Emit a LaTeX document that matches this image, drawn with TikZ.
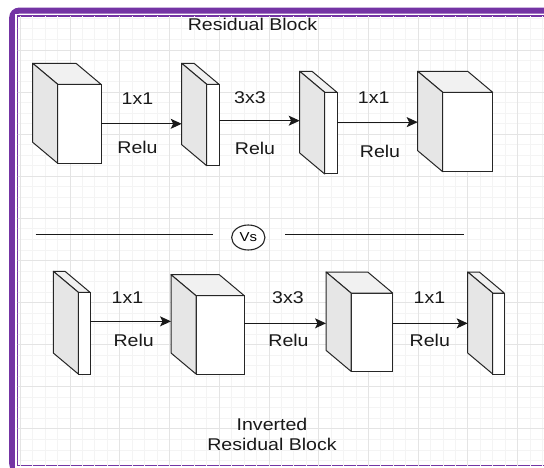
\documentclass[tikz,border=0pt]{standalone}
\usepackage{fontspec}
\setmainfont{Liberation Sans}
\usepackage{graphicx}
\usetikzlibrary{arrows.meta,shapes.geometric,positioning}
\definecolor{framepurple}{HTML}{7434A4}
\definecolor{sidegray}{HTML}{E6E6E6}
\definecolor{topgray}{HTML}{F1F1F1}
\definecolor{gridminor}{HTML}{F4F4F4}
\definecolor{gridmajor}{HTML}{E4E4E4}
\tikzset{
	face/.style={draw=black!85, fill=white, line width=1pt, inner sep=0pt, outer sep=0pt, anchor=north west},
	backface/.style={inner sep=0pt, outer sep=0pt, anchor=north west},
	sideface/.style={draw=black!85, line width=1pt, line join=round},
	flow/.style={draw=black!90, line width=1.1pt, -{Stealth[length=11pt,width=10pt,inset=2.5pt]}},
	lbl/.style={font=\fontsize{17}{20}\selectfont, text=black!90, inner sep=0pt},
	rule/.style={draw=black!90, line width=1.3pt},
}
\begin{document}
\begin{tikzpicture}[x=1pt,y=-1pt]
	\newcommand{\wide}[1]{\scalebox{1.15}[1]{#1}}
	% block: name, front left, front top, width, height
	\newcommand{\myblock}[5]{
		\node [face, minimum width=#4pt, minimum height=#5pt] (#1) at (#2,#3) {};
		\node [backface, minimum width=#4pt, minimum height=#5pt] (#1-back) at ([shift={(-25,-21)}]#1.north west) {};
		\filldraw [sideface, fill=topgray] (#1-back.north west) -- (#1-back.north east) -- (#1.north east) -- (#1.north west) -- cycle;
		\filldraw [sideface, fill=sidegray] (#1-back.north west) -- (#1.north west) -- (#1.south west) -- (#1-back.south west) -- cycle;
	}
	\useasboundingbox (0,0) rectangle (544,468);
	\clip (0,0) rectangle (544,468);
	%Frame
	\draw [draw=framepurple, line width=6pt, rounded corners=7pt] (12.2,10.6) rectangle (570,470.6);
	\fill [white] (15.2,13.6) rectangle (560,467.6);
	\draw [draw=framepurple, line width=1.2pt] (17.3,16) rectangle (560,465.7);
	%Grid
	\begin{scope}
		\clip (17.9,16.6) rectangle (544,465.1);
		\foreach \i in {-4,...,38} {
			\draw [gridminor, line width=0.9pt] ({70+\i*12.435},16) -- ++(0,450);
		}
		\foreach \j in {-3,...,39} {
			\draw [gridminor, line width=0.9pt] (17,{50+\j*10.525}) -- ++(530,0);
		}
		\foreach \i in {-1,...,9} {
			\draw [gridmajor, line width=0.9pt] ({70+\i*49.74},16) -- ++(0,450);
		}
		\foreach \j in {0,...,9} {
			\draw [gridmajor, line width=0.9pt] (17,{50+\j*42.1}) -- ++(530,0);
		}
	\end{scope}
	%Residual block
	\node [lbl] (title) at (252.5,24) {\wide{Residual Block}};
	\myblock{c1}{57.7}{84.3}{43.3}{79}
	\myblock{s1}{206.7}{84.3}{12.3}{81.4}
	\myblock{s2}{324.7}{92.3}{12.3}{81.7}
	\myblock{c4}{442.7}{92.3}{50}{79.4}
	\coordinate (a1) at (c1.east);
	\coordinate (a2) at ([yshift=4.3pt]s1.east);
	\coordinate (a3) at ([yshift=11pt]s2.east);
	\draw [flow] (a1) -- (a1 -| s1-back.west);
	\draw [flow] (a2) -- (a2 -| s2-back.west);
	\draw [flow] (a3) -- (a3 -| c4-back.west);
	\node [lbl] (k1) at (137.5,98.3) {\wide{1x1}};
	\node [lbl] (r1) at (137.5,147.7) {\wide{Relu}};
	\node [lbl] (k2) at (250,98) {\wide{3x3}};
	\node [lbl] (r2) at (255,148) {\wide{Relu}};
	\node [lbl] (k3) at (373.7,97.7) {\wide{1x1}};
	\node [lbl] (r3) at (380,151) {\wide{Relu}};
	%Separator
	\node [ellipse, draw=black!85, line width=1.1pt, fill=white, minimum width=33.3pt, minimum height=25pt, inner sep=0pt, font=\fontsize{13}{15}\selectfont] (vs) at (248.3,237.5) {\wide{Vs}};
	\coordinate (sepL1) at (35.7,234.3);
	\coordinate (sepL2) at (213.3,234.3);
	\coordinate (sepR1) at (285,234.3);
	\coordinate (sepR2) at (464.3,234.3);
	\draw [rule] (sepL1) -- (sepL2);
	\draw [rule] (sepR1) -- (sepR2);
	%Inverted residual block
	\myblock{sa}{78.3}{292.3}{11.7}{81.7}
	\myblock{cb}{196}{295.7}{48.3}{78.3}
	\myblock{cc}{351}{293}{41.7}{78.3}
	\myblock{sd}{492.7}{293}{11.6}{81}
	\coordinate (b1) at ([yshift=11.8pt]sa.east);
	\coordinate (b2) at ([yshift=11.5pt]cb.east);
	\coordinate (b3) at ([yshift=8.8pt]cc.east);
	\draw [flow] (b1) -- (b1 -| cb-back.west);
	\draw [flow] (b2) -- (b2 -| cc-back.west);
	\draw [flow] (b3) -- (b3 -| sd-back.west);
	\node [lbl] (k4) at (127.5,298) {\wide{1x1}};
	\node [lbl] (r4) at (133.7,340) {\wide{Relu}};
	\node [lbl] (k5) at (288,298) {\wide{3x3}};
	\node [lbl] (r5) at (288.5,340) {\wide{Relu}};
	\node [lbl] (k6) at (429.5,298) {\wide{1x1}};
	\node [lbl] (r6) at (429.8,340.7) {\wide{Relu}};
	\node [lbl, align=center] (subtitle) at (272,434.7) {\wide{Inverted}\\\wide{Residual Block}};
\end{tikzpicture}
\end{document}
